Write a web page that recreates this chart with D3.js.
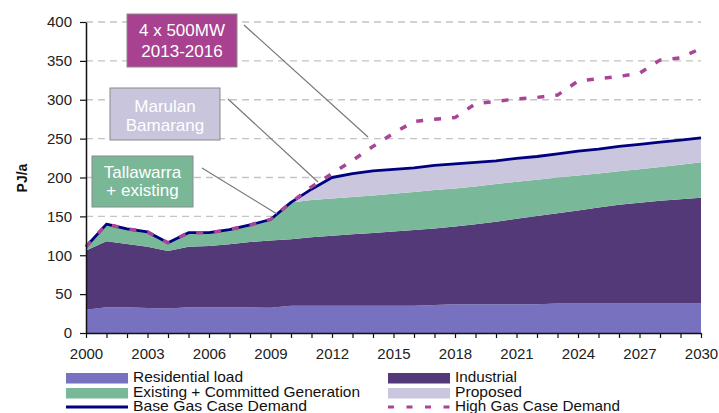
<!DOCTYPE html>
<html><head><meta charset="utf-8">
<script src="https://cdn.jsdelivr.net/npm/d3@7/dist/d3.min.js"></script>
<style>
body{margin:0;background:#fff;}
text{font-family:"Liberation Sans",Arial,sans-serif;}
</style></head>
<body><svg id="c" width="719" height="413"></svg>
<script>
const years = d3.range(2000, 2031);
const residential = [30,33,33,32,31.5,33,33,33,33,32.5,35,35,35,35,35,35,35,36,37,37,37,37,37,38,38,38,38,38,38,38,38];
const industrial = [76,85,81.5,79,74,78,79,81,84,86.5,85.5,88,90,92,93.5,95.5,97.5,98.5,100,103,106,110,113.5,116,119.5,123.5,127,129.5,132,134,136];
const existing = [5,22,19.5,19,10.5,18,17,19,22,27,47.5,48,48,48,48.5,48.5,49,49.5,49,48.5,48.5,47.5,46.5,46,45,43.5,43,43,43.5,44.5,45.5];
const proposed = [0,0,0,0,0,0,0,0,0,0,0,14,27,30,31.5,31.5,31,31.5,31.5,31,30,30,30,30.5,31.5,31.5,32,32,32,31.5,31.5];
const baseGas = [111,140,134,130,116,129,129,133,139,146,168,185,200,205,208.5,210.5,212.5,215.5,217.5,219.5,221.5,224.5,227,230.5,234,236.5,240,242.5,245.5,248,251];
const highGas = [111,140,134,130,116,129,129,133,139,146,168,188,205,222,240,257,272,275,277,295,298,301,303,306,324,327,330,334,351,354,366];
const yTicks = [0,50,100,150,200,250,300,350,400];
const xLabelYears = [2000,2003,2006,2009,2012,2015,2018,2021,2024,2027,2030];

const seriesKeys = ["residential","industrial","existing","proposed"];
const seriesNames = {residential:"Residential load",industrial:"Industrial",existing:"Existing + Committed Generation",proposed:"Proposed"};
const colors = {residential:"#7771bf",industrial:"#533978",existing:"#79b898",proposed:"#cac6de",base:"#000080",high:"#a94497"};

const table = years.map((yr,i)=>({year:yr,residential:residential[i],industrial:industrial[i],existing:existing[i],proposed:proposed[i],base:baseGas[i],high:highGas[i]}));

const svg = d3.select("#c");
const x = d3.scaleLinear().domain([2000,2030]).range([86,701]);
const y = d3.scaleLinear().domain([0,400]).range([333,22]);

// gridlines
svg.append("g").selectAll("line").data(yTicks.filter(v=>v>0)).join("line")
  .attr("x1",x(2000)).attr("x2",x(2030)).attr("y1",d=>y(d)).attr("y2",d=>y(d))
  .attr("stroke","#c4c4c4").attr("stroke-width",1.3).attr("stroke-dasharray","7,5");

// stacked areas
const stack = d3.stack().keys(seriesKeys)(table);
const area = d3.area().x(d=>x(d.data.year)).y0(d=>y(d[0])).y1(d=>y(d[1]));
svg.append("g").selectAll("path").data(stack).join("path")
  .attr("d",area).attr("fill",d=>colors[d.key]);

// lines
const line = key => d3.line().x(d=>x(d.year)).y(d=>y(d[key]));
svg.append("path").datum(table).attr("d",line("base")).attr("fill","none")
  .attr("stroke",colors.base).attr("stroke-width",2.8).attr("stroke-linejoin","round");
svg.append("path").datum(table).attr("d",line("high")).attr("fill","none")
  .attr("stroke",colors.high).attr("stroke-width",3.5).attr("stroke-dasharray","7,11");

// axes
const yAxis = svg.append("g").attr("transform",`translate(${x(2000)},0)`)
  .call(d3.axisLeft(y).tickValues(yTicks).tickSize(6).tickSizeOuter(0).tickPadding(8));
const xAxis = svg.append("g").attr("transform",`translate(0,${y(0)})`)
  .call(d3.axisBottom(x).tickValues(years).tickSize(5).tickSizeOuter(0).tickPadding(10)
    .tickFormat(d=>xLabelYears.includes(d)?String(d):""));
[yAxis,xAxis].forEach(g=>{
  g.selectAll("path.domain").attr("stroke","#111").attr("stroke-width",1.5);
  g.selectAll(".tick line").attr("stroke","#111").attr("stroke-width",1.2);
  g.selectAll("text").attr("font-size",15).attr("fill","#222").attr("font-family","'Liberation Sans',Arial,sans-serif");
});

svg.append("text").attr("transform","translate(27,178) rotate(-90)").attr("text-anchor","middle")
  .attr("font-size",14).attr("font-weight","bold").attr("fill","#111").text("PJ/a");

// annotations
const notes = [
  {lines:["4 x 500MW","2013-2016"],box:[127,14,110,53],fill:"#a8418f",from:[244,25],to:[368,137],base:[36,57]},
  {lines:["Marulan","Bamarang"],box:[110,88,110,52],fill:"#c9c5dd",from:[228,99],to:[318,182],base:[112,131]},
  {lines:["Tallawarra","+ existing"],box:[92,156,101,51],fill:"#79b797",from:[202,168],to:[277,214],base:[178,196]}
];
notes.forEach(n=>{
  svg.append("line").attr("x1",n.from[0]).attr("y1",n.from[1]).attr("x2",n.to[0]).attr("y2",n.to[1])
    .attr("stroke","#777").attr("stroke-width",1.2);
  svg.append("rect").attr("x",n.box[0]).attr("y",n.box[1]).attr("width",n.box[2]).attr("height",n.box[3])
    .attr("fill",n.fill).attr("stroke","#8a8a8a").attr("stroke-width",1);
  n.lines.forEach((t,i)=>svg.append("text").attr("x",n.box[0]+n.box[2]/2).attr("y",n.base[i])
    .attr("text-anchor","middle").attr("font-size",17).attr("fill","#fff").text(t));
});

// legend
const legend = [
  {key:"residential",type:"rect",x:66,y:373,tl:110},
  {key:"industrial",type:"rect",x:388,y:373,tl:62},
  {key:"existing",type:"rect",x:66,y:388,tl:227},
  {key:"proposed",type:"rect",x:388,y:388,tl:67},
  {name:"Base Gas Case Demand",type:"line",x:66,y:407,color:colors.base,dash:null,tl:174},
  {name:"High Gas Case Demand",type:"line",x:388,y:407,color:colors.high,dash:"6,12.5",tl:165}
];
const baselines = {373:382.3,388:396.7,407:411};
legend.forEach(l=>{
  if(l.type==="rect"){
    svg.append("rect").attr("x",l.x).attr("y",l.y).attr("width",62).attr("height",10.5).attr("fill",colors[l.key]);
  } else {
    svg.append("line").attr("x1",l.x).attr("x2",l.x+62).attr("y1",l.y).attr("y2",l.y)
      .attr("stroke",l.color).attr("stroke-width",3).attr("stroke-dasharray",l.dash);
  }
  svg.append("text").attr("x",l.x+67).attr("y",baselines[l.y])
    .attr("font-size",14.5).attr("fill","#111")
    .attr("textLength",l.tl).attr("lengthAdjust","spacingAndGlyphs")
    .text(l.name||seriesNames[l.key]);
});
</script></body></html>
